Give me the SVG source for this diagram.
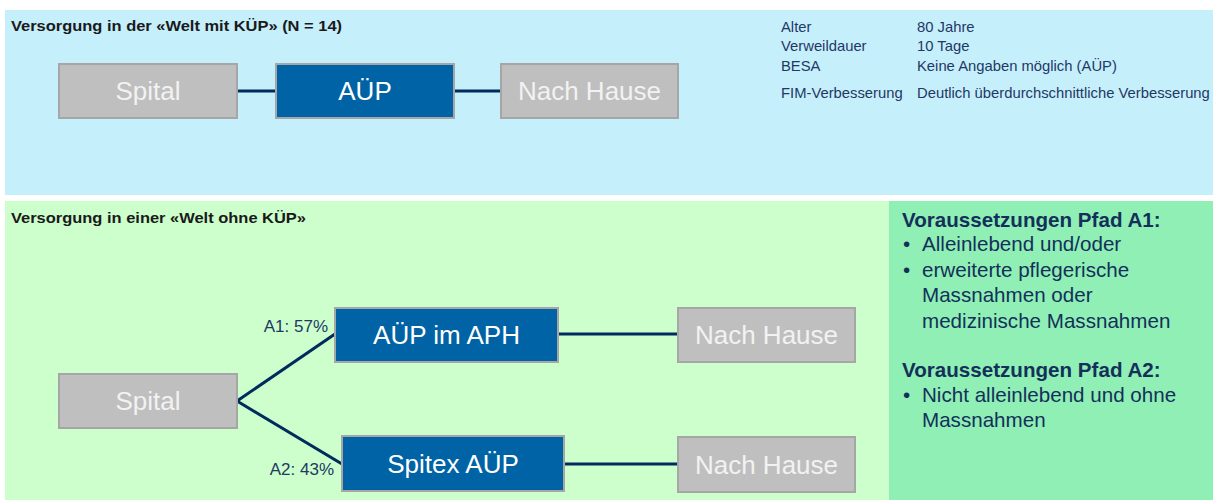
<svg xmlns="http://www.w3.org/2000/svg" width="1213" height="500" viewBox="0 0 1213 500">
<style>
.bg{stroke:none}
.grey{fill:#BFBFBF;stroke:#A6A6A6;stroke-width:2}
.blue{fill:#0063A6;stroke:#A6A6A6;stroke-width:2}
.nt{font-family:"Liberation Sans",Arial,sans-serif;font-size:26px;fill:#F2F2F2;text-anchor:middle}
.nb{font-family:"Liberation Sans",Arial,sans-serif;font-size:26px;fill:#FFFFFF;text-anchor:middle}
.title{font-family:"Liberation Sans",Arial,sans-serif;font-size:15px;font-weight:bold;fill:#1A1A1A}
.info{font-family:"Liberation Sans",Arial,sans-serif;font-size:14.8px;fill:#1F3864}
.lbl{font-family:"Liberation Sans",Arial,sans-serif;font-size:17px;fill:#1F3864;text-anchor:end}
.h{font-family:"Liberation Sans",Arial,sans-serif;font-size:20.6px;font-weight:bold;fill:#14305A}
.b{font-family:"Liberation Sans",Arial,sans-serif;font-size:20.6px;fill:#14305A}
.conn{stroke:#002B5C;stroke-width:3;fill:none}
</style>
<rect x="0" y="0" width="1213" height="500" fill="#FFFFFF"/>
<rect class="bg" x="5" y="10" width="1208" height="185" fill="#C6EFFC"/>
<rect class="bg" x="5" y="201" width="884" height="299" fill="#CCFFCC"/>
<rect class="bg" x="889" y="201" width="324" height="299" fill="#8FEFB5"/>

<text class="title" x="11" y="31" textLength="331" lengthAdjust="spacingAndGlyphs">Versorgung in der «Welt mit KÜP» (N = 14)</text>
<text class="title" x="11" y="223" textLength="295" lengthAdjust="spacingAndGlyphs">Versorgung in einer «Welt ohne KÜP»</text>

<g id="info">
<text class="info" x="781" y="32">Alter</text>
<text class="info" x="917" y="32">80 Jahre</text>
<text class="info" x="781" y="51">Verweildauer</text>
<text class="info" x="917" y="51">10 Tage</text>
<text class="info" x="781" y="71">BESA</text>
<text class="info" x="917" y="71">Keine Angaben möglich (AÜP)</text>
<text class="info" x="781" y="98">FIM-Verbesserung</text>
<text class="info" x="917" y="98">Deutlich überdurchschnittliche Verbesserung</text>
</g>

<g id="connectors">
<line class="conn" x1="237" y1="91" x2="276" y2="91"/>
<line class="conn" x1="454" y1="91" x2="501" y2="91"/>
<line class="conn" x1="237" y1="401" x2="335" y2="334"/>
<line class="conn" x1="237" y1="401" x2="342" y2="464"/>
<line class="conn" x1="558" y1="334" x2="678" y2="334"/>
<line class="conn" x1="564" y1="464" x2="678" y2="464"/>
<text class="lbl" x="328" y="332">A1: 57%</text>
<text class="lbl" x="334" y="475">A2: 43%</text>
</g>

<g id="top-spital">
<rect class="grey" x="59" y="64" width="178" height="54"/>
<text class="nt" x="148" y="100">Spital</text>
</g>
<g id="top-auep">
<rect class="blue" x="276" y="64" width="178" height="54"/>
<text class="nb" x="365" y="100">AÜP</text>
</g>
<g id="top-nachhause">
<rect class="grey" x="501" y="64" width="177" height="54"/>
<text class="nt" x="589.5" y="100">Nach Hause</text>
</g>

<g id="bot-spital">
<rect class="grey" x="59" y="374" width="178" height="54"/>
<text class="nt" x="148" y="410">Spital</text>
</g>
<g id="auep-aph">
<rect class="blue" x="335" y="308" width="223" height="54"/>
<text class="nb" x="446.5" y="344">AÜP im APH</text>
</g>
<g id="spitex-auep">
<rect class="blue" x="342" y="436" width="222" height="55"/>
<text class="nb" x="453" y="473">Spitex AÜP</text>
</g>
<g id="nachhause-1">
<rect class="grey" x="678" y="308" width="177" height="54"/>
<text class="nt" x="766.5" y="344">Nach Hause</text>
</g>
<g id="nachhause-2">
<rect class="grey" x="678" y="437" width="177" height="55"/>
<text class="nt" x="766.5" y="474">Nach Hause</text>
</g>

<g id="voraussetzungen">
<text class="h" x="902" y="227">Voraussetzungen Pfad A1:</text>
<text class="b" x="903" y="251">•</text><text class="b" x="922" y="251">Alleinlebend und/oder</text>
<text class="b" x="903" y="277">•</text><text class="b" x="922" y="277">erweiterte pflegerische</text>
<text class="b" x="922" y="302">Massnahmen oder</text>
<text class="b" x="922" y="328">medizinische Massnahmen</text>
<text class="h" x="902" y="377">Voraussetzungen Pfad A2:</text>
<text class="b" x="903" y="402">•</text><text class="b" x="922" y="402">Nicht alleinlebend und ohne</text>
<text class="b" x="922" y="427">Massnahmen</text>
</g>
</svg>
